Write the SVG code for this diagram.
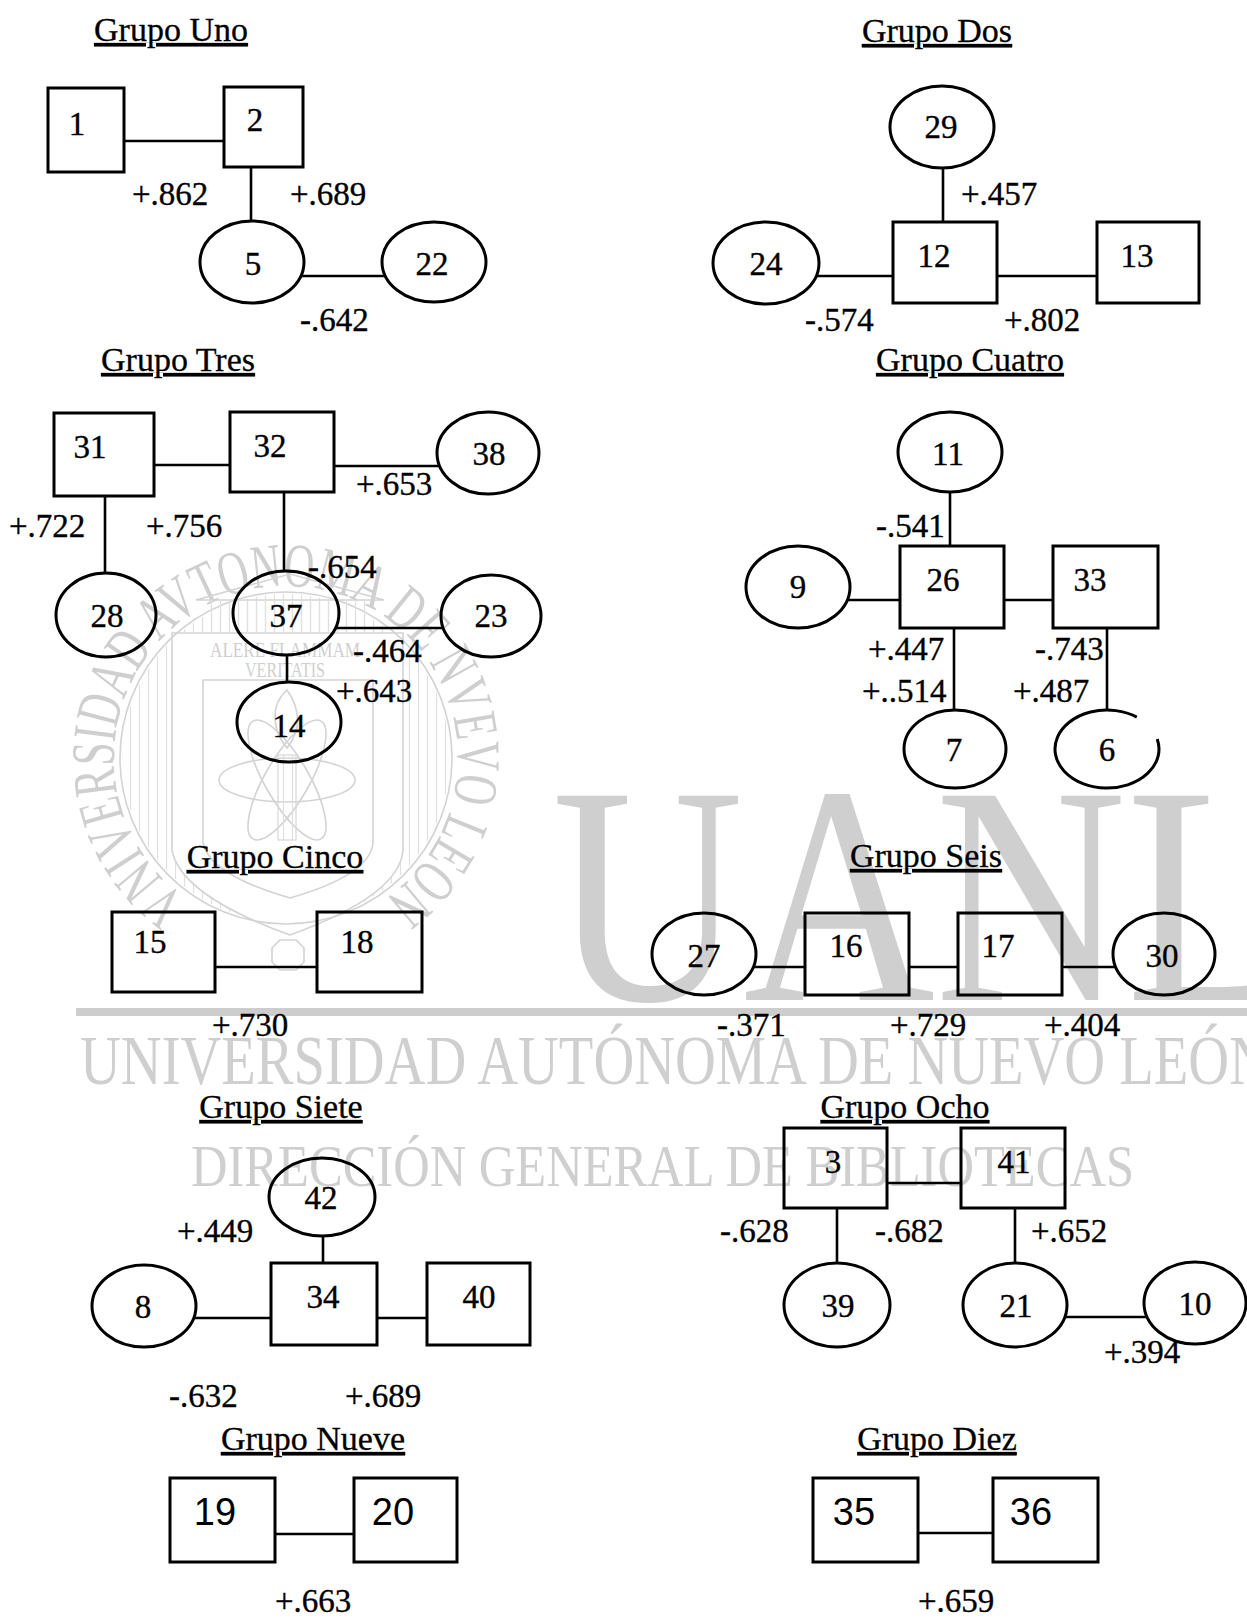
<svg xmlns="http://www.w3.org/2000/svg" width="1247" height="1618" viewBox="0 0 1247 1618">
<style>
  .bg { fill: #ffffff; }
  .wm { fill: #cfcfcf; font-family: "Liberation Serif", "Times New Roman", serif; }
  .wml { fill: none; stroke: #d3d3d3; stroke-width: 1.6; }
  .n { fill: none; stroke: #000; stroke-width: 3; }
  .c { stroke: #000; stroke-width: 2.6; fill: none; }
  .t { font-family: "Liberation Serif", "Times New Roman", serif; font-size: 33px; fill: #000; stroke: #000; stroke-width: 0.35; }
  .m { text-anchor: middle; }
  .title { font-family: "Liberation Serif", "Times New Roman", serif; font-size: 34px; fill: #000; stroke: #000; stroke-width: 0.3; text-anchor: middle; text-decoration: underline; }
  .ar { font-family: "Liberation Sans", Arial, sans-serif; font-size: 38px; fill: #000; text-anchor: middle; }
</style>
<defs>
  <pattern id="hatch" patternUnits="userSpaceOnUse" width="9" height="10">
    <line x1="4.5" y1="0" x2="4.5" y2="10" stroke="#e0e0e0" stroke-width="1.2"/>
  </pattern>
  <mask id="ringMask">
    <circle cx="286" cy="758" r="164" fill="#fff"/>
    <path d="M172,633 L403,633 L403,850 Q400,895 290,935 Q180,895 172,850 Z" fill="#000"/>
  </mask>
  <path id="sealArc" d="M187.3,898.9 A172,172 0 1 1 384.7,898.9"/>
</defs>
<rect class="bg" x="0" y="0" width="1247" height="1618"/>

<g id="watermark">
  <g id="seal">
    <rect x="110" y="590" width="352" height="340" fill="url(#hatch)" mask="url(#ringMask)"/>
    <circle class="wml" cx="286" cy="758" r="166"/>
    <text class="wm" font-size="62" textLength="870" lengthAdjust="spacingAndGlyphs"><textPath href="#sealArc">VNIVERSIDAD AVTONOMA DE NVEVO LEON</textPath></text>
    <path class="wml" d="M172,633 L403,633 L403,850 Q400,895 290,935 Q180,895 172,850 Z"/>
    <path class="wml" d="M203,680 L373,680 L373,843 Q370,875 290,898 Q210,875 203,843 Z"/>
    <path class="wml" d="M196,600 L290,574 L384,600 Z"/>
    <rect x="203" y="600" width="167" height="33" fill="url(#hatch)"/>
    <text class="wm" x="285" y="657" font-size="22" text-anchor="middle" textLength="150" lengthAdjust="spacingAndGlyphs">ALERE FLAMMAM</text>
    <text class="wm" x="285" y="677" font-size="21" text-anchor="middle" textLength="80" lengthAdjust="spacingAndGlyphs">VERITATIS</text>
    <ellipse class="wml" cx="287" cy="780" rx="68" ry="22"/>
    <ellipse class="wml" cx="287" cy="780" rx="68" ry="22" transform="rotate(60 287 780)"/>
    <ellipse class="wml" cx="287" cy="780" rx="68" ry="22" transform="rotate(-60 287 780)"/>
    <rect x="278" y="755" width="18" height="85" fill="url(#hatch)" stroke="#d8d8d8" stroke-width="1.2"/>
    <path class="wml" d="M287,690 C270,705 272,730 287,748 C302,730 300,708 287,690 Z"/>
    <polygon class="wml" points="280,940 296,940 304,948 304,962 296,970 280,970 272,962 272,948"/>
  </g>
  <text class="wm" font-size="312" transform="translate(552,1000) scale(0.85,1)">UANL</text>
  <rect x="76" y="1008" width="1171" height="8" fill="#cdcdcd"/>
  <text class="wm" x="80" y="1084" font-size="70" textLength="1190" lengthAdjust="spacingAndGlyphs">UNIVERSIDAD AUTÓNOMA DE NUEVO LEÓN</text>
  <text class="wm" x="191" y="1186" font-size="60" textLength="943" lengthAdjust="spacingAndGlyphs">DIRECCIÓN GENERAL DE BIBLIOTECAS</text>
</g>

<g id="titles">
  <text class="title" x="171" y="41">Grupo Uno</text>
  <text class="title" x="937" y="42">Grupo Dos</text>
  <text class="title" x="178" y="371">Grupo Tres</text>
  <text class="title" x="970" y="371">Grupo Cuatro</text>
  <text class="title" x="275" y="868">Grupo Cinco</text>
  <text class="title" x="926" y="867">Grupo Seis</text>
  <text class="title" x="281" y="1118">Grupo Siete</text>
  <text class="title" x="905" y="1118">Grupo Ocho</text>
  <text class="title" x="313" y="1450">Grupo Nueve</text>
  <text class="title" x="937" y="1450">Grupo Diez</text>
</g>

<g id="connectors">
  <line class="c" x1="124" y1="141" x2="224" y2="141"/>
  <line class="c" x1="251" y1="167" x2="251" y2="221"/>
  <line class="c" x1="301" y1="276" x2="385" y2="276"/>
  <line class="c" x1="943" y1="168" x2="943" y2="222"/>
  <line class="c" x1="816" y1="276" x2="893" y2="276"/>
  <line class="c" x1="997" y1="276" x2="1097" y2="276"/>
  <line class="c" x1="154" y1="465" x2="230" y2="465"/>
  <line class="c" x1="334" y1="466" x2="440" y2="466"/>
  <line class="c" x1="105" y1="496" x2="105" y2="573"/>
  <line class="c" x1="284" y1="492" x2="284" y2="571"/>
  <line class="c" x1="335" y1="628" x2="443" y2="628"/>
  <line class="c" x1="287" y1="655" x2="287" y2="682"/>
  <line class="c" x1="950" y1="492" x2="950" y2="546"/>
  <line class="c" x1="847" y1="600" x2="900" y2="600"/>
  <line class="c" x1="1004" y1="600" x2="1053" y2="600"/>
  <line class="c" x1="954" y1="628" x2="954" y2="710"/>
  <line class="c" x1="1107" y1="628" x2="1107" y2="710"/>
  <line class="c" x1="215" y1="967" x2="317" y2="967"/>
  <line class="c" x1="753" y1="967" x2="805" y2="967"/>
  <line class="c" x1="909" y1="967" x2="958" y2="967"/>
  <line class="c" x1="1062" y1="967" x2="1116" y2="967"/>
  <line class="c" x1="323" y1="1236" x2="323" y2="1263"/>
  <line class="c" x1="194" y1="1318" x2="271" y2="1318"/>
  <line class="c" x1="377" y1="1318" x2="427" y2="1318"/>
  <line class="c" x1="887" y1="1183" x2="961" y2="1183"/>
  <line class="c" x1="837" y1="1208" x2="837" y2="1263"/>
  <line class="c" x1="1015" y1="1208" x2="1015" y2="1263"/>
  <line class="c" x1="1065" y1="1317" x2="1147" y2="1317"/>
  <line class="c" x1="275" y1="1534" x2="354" y2="1534"/>
  <line class="c" x1="918" y1="1533" x2="993" y2="1533"/>
</g>

<g id="labels">
  <text class="t" x="132" y="205">+.862</text>
  <text class="t" x="290" y="205">+.689</text>
  <text class="t" x="300" y="331">-.642</text>
  <text class="t" x="961" y="205">+.457</text>
  <text class="t" x="805" y="331">-.574</text>
  <text class="t" x="1004" y="331">+.802</text>
  <text class="t" x="356" y="495">+.653</text>
  <text class="t" x="9" y="537">+.722</text>
  <text class="t" x="146" y="537">+.756</text>
  <text class="t" x="308" y="578">-.654</text>
  <text class="t" x="353" y="662">-.464</text>
  <text class="t" x="336" y="702">+.643</text>
  <text class="t" x="876" y="537">-.541</text>
  <text class="t" x="868" y="660">+.447</text>
  <text class="t" x="862" y="702">+..514</text>
  <text class="t" x="1035" y="660">-.743</text>
  <text class="t" x="1013" y="702">+.487</text>
  <text class="t" x="212" y="1036">+.730</text>
  <text class="t" x="717" y="1036">-.371</text>
  <text class="t" x="890" y="1036">+.729</text>
  <text class="t" x="1044" y="1036">+.404</text>
  <text class="t" x="177" y="1242">+.449</text>
  <text class="t" x="169" y="1407">-.632</text>
  <text class="t" x="345" y="1407">+.689</text>
  <text class="t" x="720" y="1242">-.628</text>
  <text class="t" x="875" y="1242">-.682</text>
  <text class="t" x="1031" y="1242">+.652</text>
  <text class="t" x="1104" y="1363">+.394</text>
  <text class="t" x="275" y="1612">+.663</text>
  <text class="t" x="918" y="1612">+.659</text>
</g>

<g id="n1"><rect class="n" x="48" y="88" width="76" height="84"/><text class="t m" x="77" y="135">1</text></g>
<g id="n2"><rect class="n" x="224" y="87" width="79" height="80"/><text class="t m" x="255" y="131">2</text></g>
<g id="n5"><ellipse class="n" cx="252" cy="262" rx="52" ry="41"/><text class="t m" x="253" y="275">5</text></g>
<g id="n22"><ellipse class="n" cx="434" cy="262" rx="52" ry="40"/><text class="t m" x="432" y="275">22</text></g>

<g id="n29"><ellipse class="n" cx="942" cy="127" rx="52" ry="41"/><text class="t m" x="941" y="138">29</text></g>
<g id="n12"><rect class="n" x="893" y="222" width="104" height="81"/><text class="t m" x="934" y="267">12</text></g>
<g id="n24"><ellipse class="n" cx="766" cy="263" rx="53" ry="41"/><text class="t m" x="766" y="275">24</text></g>
<g id="n13"><rect class="n" x="1097" y="222" width="102" height="81"/><text class="t m" x="1137" y="267">13</text></g>

<g id="n31"><rect class="n" x="54" y="413" width="100" height="83"/><text class="t m" x="90" y="458">31</text></g>
<g id="n32"><rect class="n" x="230" y="412" width="104" height="80"/><text class="t m" x="270" y="457">32</text></g>
<g id="n38"><ellipse class="n" cx="488" cy="453" rx="51" ry="41"/><text class="t m" x="489" y="465">38</text></g>
<g id="n28"><ellipse class="n" cx="106" cy="615" rx="50" ry="42"/><text class="t m" x="107" y="627">28</text></g>
<g id="n37"><ellipse class="n" cx="286" cy="613" rx="53" ry="42"/><text class="t m" x="286" y="627">37</text></g>
<g id="n23"><ellipse class="n" cx="491" cy="616" rx="50" ry="41"/><text class="t m" x="491" y="627">23</text></g>
<g id="n14"><ellipse class="n" cx="289" cy="722" rx="52" ry="40"/><text class="t m" x="289" y="737">14</text></g>

<g id="n11"><ellipse class="n" cx="950" cy="452" rx="52" ry="40"/><text class="t m" x="948" y="465">11</text></g>
<g id="n26"><rect class="n" x="900" y="546" width="104" height="82"/><text class="t m" x="943" y="591">26</text></g>
<g id="n9"><ellipse class="n" cx="798" cy="587" rx="52" ry="41"/><text class="t m" x="798" y="598">9</text></g>
<g id="n33"><rect class="n" x="1053" y="546" width="105" height="82"/><text class="t m" x="1090" y="591">33</text></g>
<g id="n7"><ellipse class="n" cx="955" cy="749" rx="51" ry="39"/><text class="t m" x="954" y="761">7</text></g>
<g id="n6"><path class="n" d="M1157.2,738.9 A52,39 0 1 1 1136.8,717.1"/><text class="t m" x="1107" y="761">6</text></g>

<g id="n15"><rect class="n" x="112" y="912" width="103" height="80"/><text class="t m" x="150" y="953">15</text></g>
<g id="n18"><rect class="n" x="317" y="912" width="105" height="80"/><text class="t m" x="357" y="953">18</text></g>

<g id="n27"><ellipse class="n" cx="704" cy="954" rx="52" ry="41"/><text class="t m" x="704" y="967">27</text></g>
<g id="n16"><rect class="n" x="805" y="913" width="104" height="82"/><text class="t m" x="846" y="957">16</text></g>
<g id="n17"><rect class="n" x="958" y="913" width="104" height="82"/><text class="t m" x="998" y="957">17</text></g>
<g id="n30"><ellipse class="n" cx="1164" cy="954" rx="51" ry="41"/><text class="t m" x="1162" y="967">30</text></g>

<g id="n42"><ellipse class="n" cx="322" cy="1197" rx="53" ry="39"/><text class="t m" x="321" y="1209">42</text></g>
<g id="n34"><rect class="n" x="271" y="1263" width="106" height="82"/><text class="t m" x="323" y="1308">34</text></g>
<g id="n8"><ellipse class="n" cx="144" cy="1306" rx="52" ry="41"/><text class="t m" x="143" y="1318">8</text></g>
<g id="n40"><rect class="n" x="427" y="1263" width="103" height="82"/><text class="t m" x="479" y="1308">40</text></g>

<g id="n3"><rect class="n" x="784" y="1128" width="103" height="80"/><text class="t m" x="833" y="1173">3</text></g>
<g id="n41"><rect class="n" x="961" y="1128" width="104" height="80"/><text class="t m" x="1014" y="1173">41</text></g>
<g id="n39"><ellipse class="n" cx="837" cy="1305" rx="53" ry="42"/><text class="t m" x="838" y="1317">39</text></g>
<g id="n21"><ellipse class="n" cx="1015" cy="1305" rx="52" ry="42"/><text class="t m" x="1016" y="1317">21</text></g>
<g id="n10"><ellipse class="n" cx="1195" cy="1303" rx="51" ry="41"/><text class="t m" x="1195" y="1315">10</text></g>

<g id="n19"><rect class="n" x="170" y="1478" width="105" height="84"/><text class="ar" x="215" y="1525">19</text></g>
<g id="n20"><rect class="n" x="354" y="1478" width="103" height="84"/><text class="ar" x="393" y="1525">20</text></g>
<g id="n35"><rect class="n" x="813" y="1478" width="105" height="84"/><text class="ar" x="854" y="1525">35</text></g>
<g id="n36"><rect class="n" x="993" y="1478" width="105" height="84"/><text class="ar" x="1031" y="1525">36</text></g>
</svg>
